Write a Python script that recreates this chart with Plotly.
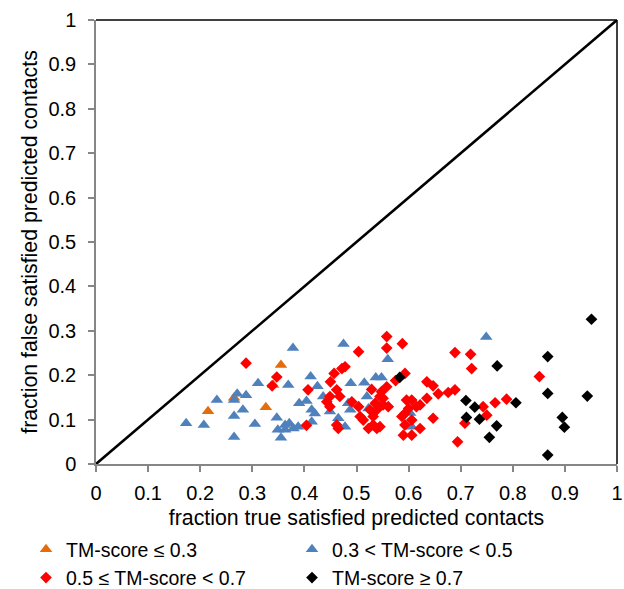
import plotly.graph_objects as go

# TM-score <= 0.3
orange_x = [0.215, 0.265, 0.326, 0.355, 0.340]
orange_y = [0.119, 0.149, 0.128, 0.223, 0.178]

# 0.3 < TM-score < 0.5
blue_x = [0.173, 0.207, 0.232, 0.265, 0.271, 0.288, 0.282, 0.265, 0.265, 0.311,
          0.305, 0.347, 0.349, 0.363, 0.355, 0.369, 0.378, 0.412, 0.425, 0.475,
          0.560, 0.537, 0.548, 0.489, 0.515, 0.749, 0.390, 0.404, 0.414, 0.420,
          0.363, 0.371, 0.379, 0.388, 0.414, 0.449, 0.465, 0.436, 0.484, 0.520,
          0.488, 0.523, 0.606, 0.478, 0.603]
blue_y = [0.092, 0.088, 0.144, 0.144, 0.158, 0.155, 0.122, 0.108, 0.061, 0.182,
          0.090, 0.104, 0.077, 0.077, 0.059, 0.178, 0.261, 0.197, 0.175, 0.270,
          0.236, 0.195, 0.195, 0.182, 0.183, 0.286, 0.137, 0.142, 0.122, 0.114,
          0.088, 0.092, 0.080, 0.084, 0.095, 0.118, 0.103, 0.152, 0.137, 0.152,
          0.122, 0.125, 0.084, 0.084, 0.115]

# 0.5 <= TM-score < 0.7
red_x = [0.288, 0.347, 0.338, 0.407, 0.450, 0.457, 0.472, 0.462, 0.558, 0.558,
         0.588, 0.504, 0.478, 0.593, 0.575, 0.558, 0.529, 0.548, 0.635, 0.647,
         0.657, 0.676, 0.689, 0.635, 0.622, 0.647, 0.622, 0.694, 0.743, 0.750,
         0.708, 0.689, 0.719, 0.721, 0.596, 0.606, 0.593, 0.606, 0.590, 0.606,
         0.766, 0.788, 0.851, 0.404, 0.443, 0.449, 0.462, 0.468, 0.449, 0.465,
         0.491, 0.504, 0.513, 0.523, 0.532, 0.545, 0.539, 0.587, 0.551, 0.545,
         0.507, 0.536, 0.551, 0.561, 0.532, 0.539, 0.600, 0.593, 0.615, 0.526]
red_y = [0.227, 0.196, 0.176, 0.167, 0.185, 0.204, 0.215, 0.167, 0.287, 0.261,
         0.271, 0.253, 0.219, 0.204, 0.188, 0.174, 0.168, 0.163, 0.185, 0.176,
         0.158, 0.161, 0.167, 0.148, 0.133, 0.103, 0.080, 0.050, 0.129, 0.110,
         0.092, 0.251, 0.247, 0.215, 0.144, 0.144, 0.114, 0.099, 0.065, 0.065,
         0.138, 0.146, 0.197, 0.087, 0.140, 0.129, 0.088, 0.152, 0.152, 0.080,
         0.140, 0.129, 0.099, 0.080, 0.107, 0.152, 0.122, 0.107, 0.133, 0.084,
         0.107, 0.137, 0.148, 0.129, 0.088, 0.080, 0.125, 0.088, 0.129, 0.122]

# TM-score >= 0.7
black_x = [0.583, 0.770, 0.710, 0.727, 0.711, 0.736, 0.769, 0.755, 0.806, 0.951,
           0.867, 0.867, 0.943, 0.895, 0.899, 0.867]
black_y = [0.195, 0.221, 0.143, 0.128, 0.105, 0.101, 0.086, 0.060, 0.138, 0.326,
           0.242, 0.159, 0.153, 0.105, 0.083, 0.020]

diag = [0, 1]
tick_vals = [0, 0.1, 0.2, 0.3, 0.4, 0.5, 0.6, 0.7, 0.8, 0.9, 1]
tick_text = ["0", "0.1", "0.2", "0.3", "0.4", "0.5", "0.6", "0.7", "0.8", "0.9", "1"]

FONT = "Liberation Sans, Arial, sans-serif"
FS = 20
TFS = 21.3
LFS = 19.5

fig = go.Figure()
fig.add_trace(go.Scatter(x=diag, y=diag, mode="lines", line=dict(color="black", width=2.6),
                         showlegend=False, hoverinfo="skip"))
fig.add_trace(go.Scatter(x=orange_x, y=orange_y, mode="markers", name="TM-score ≤ 0.3",
                         marker=dict(symbol="triangle-up", size=11, color="#E46C0A")))
fig.add_trace(go.Scatter(x=blue_x, y=blue_y, mode="markers", name="0.3 < TM-score < 0.5",
                         marker=dict(symbol="triangle-up", size=11, color="#4F81BD")))
fig.add_trace(go.Scatter(x=red_x, y=red_y, mode="markers", name="0.5 ≤ TM-score < 0.7",
                         marker=dict(symbol="diamond", size=9, color="#FF0000")))
fig.add_trace(go.Scatter(x=black_x, y=black_y, mode="markers", name="TM-score ≥ 0.7",
                         marker=dict(symbol="diamond", size=9, color="black")))

axis_common = dict(range=[0, 1], tickvals=tick_vals, ticktext=tick_text, showgrid=False,
                   zeroline=False, showline=True, linecolor="#868686", linewidth=1.5,
                   ticks="outside", ticklen=6, tickcolor="#868686", tickwidth=1.5,
                   tickfont=dict(size=FS, color="black", family=FONT), automargin=False)

fig.update_layout(
    width=624, height=589,
    margin=dict(l=96, r=7, t=20, b=125, autoexpand=False),
    plot_bgcolor="white", paper_bgcolor="white",
    font=dict(family=FONT, size=FS, color="black"),
    xaxis=dict(**axis_common, ticklabelstandoff=4,
               title=dict(text="fraction true satisfied predicted contacts",
                          font=dict(size=TFS), standoff=7)),
    yaxis=dict(**axis_common, ticklabelstandoff=8,
               title=dict(text="fraction false satisfied predicted contacts",
                          font=dict(size=TFS), standoff=5)),
    legend=dict(orientation="h", xref="paper", yref="paper",
                x=(26 - 96) / 521, y=(464 - 530) / 444, xanchor="left", yanchor="top",
                entrywidth=221, entrywidthmode="pixels", itemwidth=30,
                font=dict(size=LFS, family=FONT, color="black"),
                bgcolor="rgba(0,0,0,0)", tracegroupgap=0),
    shapes=[
        dict(type="line", xref="paper", yref="paper", x0=0, x1=1, y0=1, y1=1,
             line=dict(color="black", width=1.5)),
        dict(type="line", xref="paper", yref="paper", x0=1, x1=1, y0=0, y1=1,
             line=dict(color="black", width=1.5)),
    ],
)

fig.write_html("out.html")
